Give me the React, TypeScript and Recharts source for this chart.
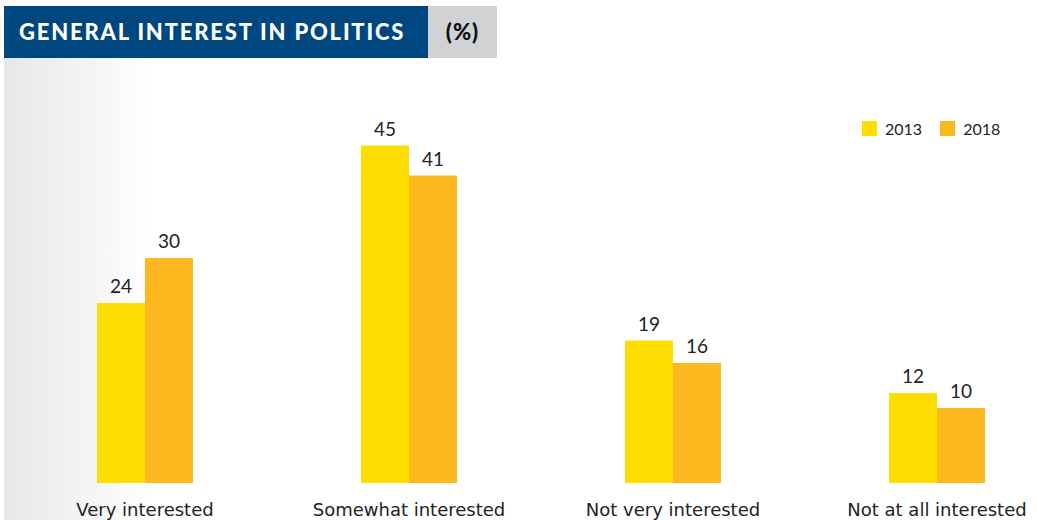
import { BarChart, Bar, XAxis, YAxis, LabelList } from 'recharts'

const categories = ['Very interested', 'Somewhat interested', 'Not very interested', 'Not at all interested']
const values2013 = [24, 45, 19, 12]
const values2018 = [30, 41, 16, 10]

const COLORS = {
  y2013: '#fedd00', // yellow
  y2018: '#fdb71f', // orange
}

const data = categories.map((name, i) => ({
  name,
  y2013: values2013[i],
  y2018: values2018[i],
}))

function LegendBox() {
  const items = [
    { label: '2013', color: COLORS.y2013 },
    { label: '2018', color: COLORS.y2018 },
  ]
  return (
    <div style={{ display: 'flex', gap: 18 }}>
      {items.map((it) => (
        <div key={it.label} style={{ display: 'flex', alignItems: 'center' }}>
          <span style={{ width: 15, height: 15, background: it.color, display: 'inline-block', marginRight: 8 }} />
          <span style={{ fontFamily: 'Lato', fontSize: 16, color: '#222' }}>{it.label}</span>
        </div>
      ))}
    </div>
  )
}

export default function App() {
  return (
    <div style={{ position: 'absolute', left: 0, top: 0, width: 1037, height: 520, overflow: 'hidden', background: '#fff' }}>
      <div
        style={{
          position: 'absolute', left: 4, top: 58, width: 150, height: 462,
          background: 'linear-gradient(to right, #e6e7e8, #ffffff)',
        }}
      />
      <div
        style={{
          position: 'absolute', left: 4, top: 6, width: 424, height: 52, background: '#00467f',
          color: '#fff', fontFamily: 'Lato', fontWeight: 900, fontSize: 22, lineHeight: '52px',
          paddingLeft: 15, boxSizing: 'border-box', letterSpacing: 1.8, whiteSpace: 'nowrap',
        }}
      >
        GENERAL INTEREST IN POLITICS
      </div>
      <div
        style={{
          position: 'absolute', left: 428, top: 6, width: 69, height: 52, background: '#d1d2d4',
          color: '#111', fontFamily: 'Lato', fontWeight: 900, fontSize: 22, lineHeight: '52px',
          textAlign: 'center', letterSpacing: 1,
        }}
      >
        (%)
      </div>
      <div style={{ position: 'absolute', left: 862, top: 119 }}>
        <LegendBox />
      </div>
      <div style={{ position: 'absolute', left: 0, top: 0 }}>
        <BarChart
          width={1069}
          height={520}
          data={data}
          margin={{ top: 108, right: 0, bottom: 7, left: 13 }}
          barGap={0}
          barSize={48}
        >
          <XAxis
            dataKey="name"
            height={30}
            axisLine={false}
            tickLine={false}
            tickSize={0}
            tickMargin={20}
            tick={{ fontFamily: 'DejaVu Sans', fontSize: 18, fill: '#222' }}
            interval={0}
          />
          <YAxis hide domain={[0, 50]} />
          <Bar dataKey="y2013" fill={COLORS.y2013} isAnimationActive={false}>
            <LabelList dataKey="y2013" position="top" offset={10} style={{ fontFamily: 'Lato', fontSize: 19, fill: '#222' }} />
          </Bar>
          <Bar dataKey="y2018" fill={COLORS.y2018} isAnimationActive={false}>
            <LabelList dataKey="y2018" position="top" offset={10} style={{ fontFamily: 'Lato', fontSize: 19, fill: '#222' }} />
          </Bar>
        </BarChart>
      </div>
    </div>
  )
}
